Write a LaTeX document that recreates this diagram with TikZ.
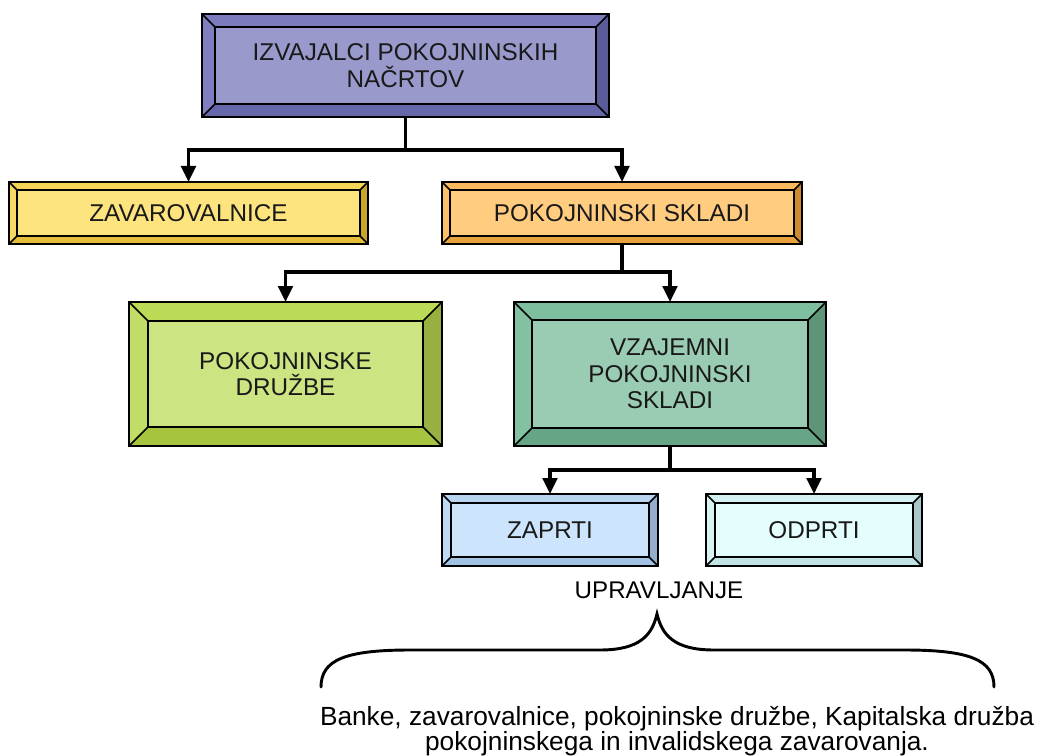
\documentclass[tikz,border=0pt]{standalone}
\usepackage{fontspec}
\setmainfont{Liberation Sans}
\usetikzlibrary{arrows.meta,calc}
\definecolor{puF}{HTML}{9999CC}\definecolor{puT}{HTML}{7B7BBD}\definecolor{puL}{HTML}{7F7FBF}\definecolor{puR}{HTML}{5B5B99}\definecolor{puB}{HTML}{6666AA}
\definecolor{yeF}{HTML}{FDE47E}\definecolor{yeT}{HTML}{F5D458}\definecolor{yeL}{HTML}{F7D862}\definecolor{yeR}{HTML}{C9A52B}\definecolor{yeB}{HTML}{E5BD38}
\definecolor{orF}{HTML}{FFCC80}\definecolor{orT}{HTML}{F9BA5E}\definecolor{orL}{HTML}{FBC068}\definecolor{orR}{HTML}{CE8A2E}\definecolor{orB}{HTML}{E7A23B}
\definecolor{grF}{HTML}{CDE482}\definecolor{grT}{HTML}{BBDA56}\definecolor{grL}{HTML}{C1DD68}\definecolor{grR}{HTML}{98B042}\definecolor{grB}{HTML}{A6C43E}
\definecolor{teF}{HTML}{9ACBB3}\definecolor{teT}{HTML}{7DBF9E}\definecolor{teL}{HTML}{82C2A2}\definecolor{teR}{HTML}{5E9477}\definecolor{teB}{HTML}{66A585}
\definecolor{blF}{HTML}{CCE4FC}\definecolor{blT}{HTML}{B9D5F2}\definecolor{blL}{HTML}{BFD9F4}\definecolor{blR}{HTML}{93AFCC}\definecolor{blB}{HTML}{A2C2E5}
\definecolor{cyF}{HTML}{E4FEFE}\definecolor{cyT}{HTML}{D4F0F0}\definecolor{cyL}{HTML}{D8F3F3}\definecolor{cyR}{HTML}{A6C8C8}\definecolor{cyB}{HTML}{C0E4E4}
\tikzset{
  boxline/.style={draw=black,line width=1.1pt,line join=miter},
  boxtext/.style={font=\fontsize{18.2}{20}\selectfont,align=center,inner sep=0pt,outer sep=0pt,text=black!90},
  conn/.style={line width=2.4pt,line join=miter},
  arr/.style={conn,-{Triangle[width=11pt,length=12pt]}},
  lbl/.style={font=\fontsize{18.1}{19}\selectfont,align=center,inner sep=0pt}
}
% #1 name, #2 x1, #3 y1, #4 x2, #5 y2, #6 bevel, #7 colour prefix, #8 text
\newcommand\bevbox[8]{%
  \fill[#7F] (#2,#3) rectangle (#4,#5);
  \fill[#7T] (#2,#3) -- (#4,#3) -- ({#4-#6},{#3+#6}) -- ({#2+#6},{#3+#6}) -- cycle;
  \fill[#7L] (#2,#3) -- ({#2+#6},{#3+#6}) -- ({#2+#6},{#5-#6}) -- (#2,#5) -- cycle;
  \fill[#7R] (#4,#3) -- (#4,#5) -- ({#4-#6},{#5-#6}) -- ({#4-#6},{#3+#6}) -- cycle;
  \fill[#7B] (#2,#5) -- (#4,#5) -- ({#4-#6},{#5-#6}) -- ({#2+#6},{#5-#6}) -- cycle;
  \draw[boxline] ({#2+#6},{#3+#6}) rectangle ({#4-#6},{#5-#6});
  \draw[boxline] (#2,#3) -- ({#2+#6},{#3+#6}) (#4,#3) -- ({#4-#6},{#3+#6})
                 (#2,#5) -- ({#2+#6},{#5-#6}) (#4,#5) -- ({#4-#6},{#5-#6});
  \node[boxline,boxtext,minimum width={(#4-#2)*0.75pt},minimum height={(#5-#3)*0.75pt}]
     (#1) at ({(#2+#4)/2},{(#3+#5)/2}) {#8};
}
\begin{document}
\begin{tikzpicture}[x=0.75pt,y=-0.75pt]
\useasboundingbox (0,0) rectangle (1046,756);
\bevbox{izv}{202}{14}{609}{117}{13}{pu}{IZVAJALCI POKOJNINSKIH\\NAČRTOV}
\bevbox{zav}{9}{182}{368}{244}{8}{ye}{ZAVAROVALNICE}
\bevbox{psk}{442}{182}{802}{244}{8}{or}{POKOJNINSKI SKLADI}
\bevbox{pdr}{129}{302}{442}{446}{19}{gr}{POKOJNINSKE\\DRUŽBE}
\bevbox{vps}{514}{302}{826}{446}{18}{te}{VZAJEMNI\\POKOJNINSKI\\SKLADI}
\bevbox{zap}{442}{494}{658}{566}{9}{bl}{ZAPRTI}
\bevbox{odp}{706}{494}{922}{566}{9}{cy}{ODPRTI}
% connectors
\coordinate (j1) at (405.5,150);
\coordinate (j2) at (622,272);
\coordinate (j3) at (670,470);
\draw[conn] (izv.south) -- (j1);
\draw[arr] (j1) -| (zav.north);
\draw[arr] (j1) -| (psk.north);
\draw[conn] (psk.south) -- (j2);
\draw[arr] (j2) -| (pdr.north);
\draw[arr] (j2) -| (vps.north);
\draw[conn] (vps.south) -- (j3);
\draw[arr] (j3) -| (zap.north);
\draw[arr] (j3) -| (odp.north);
% labels
\node[lbl] (upr) at (659,590) {UPRAVLJANJE};
\coordinate (bl) at (321,687);
\coordinate (bt) at (657,614);
\coordinate (br) at (994,687);
\draw[line width=2.2pt,line cap=round] (bl) .. controls (321,660) and (345,650) .. (410,650)
  -- (600,650) .. controls (640,650) and (652,635) .. (bt)
  .. controls (662,635) and (674,650) .. (714,650) -- (905,650)
  .. controls (970,650) and (994,660) .. (br);
\node[lbl,font=\fontsize{19.7}{18.8}\selectfont] (txt) at (677,731) {Banke, zavarovalnice, pokojninske družbe, Kapitalska družba\\pokojninskega in invalidskega zavarovanja.};
\end{tikzpicture}
\end{document}
